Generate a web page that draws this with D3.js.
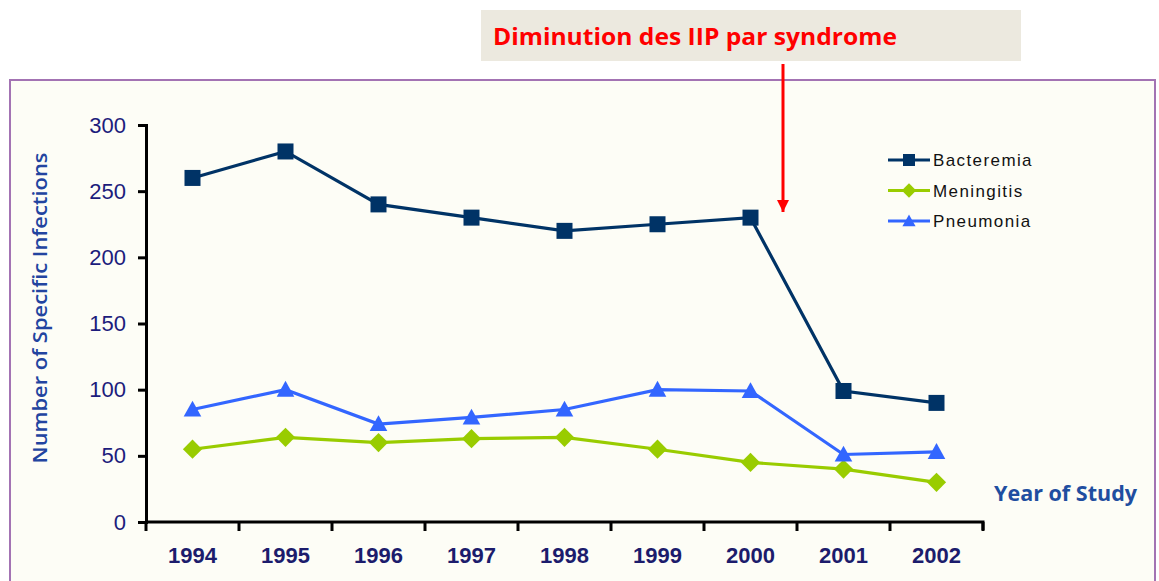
<!DOCTYPE html>
<html><head><meta charset="utf-8">
<script src="https://cdn.jsdelivr.net/npm/d3@7"></script>
<style>body{margin:0;background:#fff}svg{display:block}</style>
</head><body>
<svg id="c" width="1159" height="581"></svg>
<script>
const years = ["1994","1995","1996","1997","1998","1999","2000","2001","2002"];
const bacteremia = [260,280,240,230,220,225,230,99,90];
const meningitis = [55,64,60,63,64,55,45,40,30];
const pneumonia = [85,100,74,79,85,100,99,51,53];
const yTicks = [0,50,100,150,200,250,300];
const seriesNames = ["Bacteremia","Meningitis","Pneumonia"];
const seriesColors = ["#003366","#99cc00","#3366ff"];
const seriesData = [bacteremia, meningitis, pneumonia];

const svg = d3.select("#c");
// frame
svg.append("rect").attr("x",10).attr("y",80).attr("width",1145).attr("height",520)
  .attr("fill","#fdfdf6").attr("stroke","#a373b3").attr("stroke-width",2);

// title box
svg.append("rect").attr("x",481).attr("y",10).attr("width",540).attr("height",51).attr("fill","#ece9df");
svg.append("text").attr("x",493).attr("y",45).text("Diminution des IIP par syndrome")
  .attr("fill","#ff0000").attr("font-family","'Open Sans', Lato, sans-serif").attr("font-weight","bold")
  .attr("font-size",23).attr("textLength",404).attr("lengthAdjust","spacingAndGlyphs");

const x = d3.scaleBand().domain(years).range([146,983]);
const y = d3.scaleLinear().domain([0,300]).range([522,125]);

// axes
const yAxis = svg.append("g").attr("transform","translate(146,0)")
  .call(d3.axisLeft(y).tickValues(yTicks).tickSize(8).tickPadding(12));
yAxis.select(".domain").attr("stroke","#000").attr("stroke-width",3);
yAxis.selectAll(".tick line").attr("stroke","#000").attr("stroke-width",3);
yAxis.selectAll("text").attr("fill","#1c1c7c").attr("font-family","Arial, 'Liberation Sans', sans-serif").attr("font-size",22);

const xAxis = svg.append("g").attr("transform","translate(0,522)")
  .call(d3.axisBottom(x).tickSize(0).tickPadding(25));
xAxis.select(".domain").attr("stroke","#000").attr("stroke-width",3).attr("d","M146,0H983V8");
xAxis.selectAll("text").attr("fill","#1c1c6c").attr("font-family","Arial, 'Liberation Sans', sans-serif").attr("font-weight","bold").attr("font-size",22);
// boundary ticks between categories
const bounds = years.map(d => x(d)).concat([x(years[years.length-1]) + x.bandwidth()]);
svg.append("g").selectAll("line").data(bounds).join("line")
  .attr("x1",d=>d).attr("x2",d=>d).attr("y1",522).attr("y2",531)
  .attr("stroke","#000").attr("stroke-width",3);

// axis titles
svg.append("text").attr("transform","translate(47,308) rotate(-90)").attr("text-anchor","middle")
  .text("Number of Specific Infections").attr("fill","#2244a0")
  .attr("font-family","'Open Sans', Lato, sans-serif").attr("font-weight","600").attr("font-size",20)
  .attr("textLength",311).attr("lengthAdjust","spacingAndGlyphs");
svg.append("text").attr("x",994).attr("y",501).text("Year of Study").attr("fill","#1f4ea0")
  .attr("font-family","'Open Sans', Lato, sans-serif").attr("font-weight","bold").attr("font-size",21)
  .attr("textLength",143).attr("lengthAdjust","spacingAndGlyphs");

// markers
function marker(g, k, s){
  if(k===0){
    g.append("rect").attr("x",-s/2).attr("y",-s/2).attr("width",s).attr("height",s).attr("fill",seriesColors[k]);
  } else if(k===1){
    const h = s*0.6;
    g.append("path").attr("d",`M0,${-h}L${h},0L0,${h}L${-h},0Z`).attr("fill",seriesColors[k]);
  } else {
    const h = s*0.55;
    g.append("path").attr("d",`M0,${-h}L${h},${h*0.8}L${-h},${h*0.8}Z`).attr("fill",seriesColors[k]);
  }
}

// series
const line = d3.line().x((d,i)=>x(years[i])+x.bandwidth()/2).y(d=>y(d));
seriesData.forEach((data,k)=>{
  svg.append("path").attr("d",line(data)).attr("fill","none")
    .attr("stroke",seriesColors[k]).attr("stroke-width",3.2);
  data.forEach((d,i)=>{
    const g = svg.append("g").attr("transform",`translate(${x(years[i])+x.bandwidth()/2},${y(d)})`);
    marker(g,k,16);
  });
});

// legend
seriesNames.forEach((n,k)=>{
  const ly = 160 + k*30.5;
  svg.append("line").attr("x1",888).attr("x2",930).attr("y1",ly).attr("y2",ly)
    .attr("stroke",seriesColors[k]).attr("stroke-width",3);
  const g = svg.append("g").attr("transform",`translate(909,${ly})`);
  marker(g,k,12);
  svg.append("text").attr("x",933).attr("y",ly+6).text(n).attr("fill","#111")
    .attr("font-family","Arial, 'Liberation Sans', sans-serif").attr("font-size",17)
    .attr("letter-spacing",1.4);
});

// red arrow
svg.append("defs").append("marker").attr("id","ah").attr("viewBox","0 0 10 10")
  .attr("refX",10).attr("refY",5).attr("markerWidth",4).attr("markerHeight",4).attr("orient","auto")
  .append("path").attr("d","M0,0L10,5L0,10z").attr("fill","#ff0000");
svg.append("line").attr("x1",783).attr("x2",783).attr("y1",64).attr("y2",212)
  .attr("stroke","#ff0000").attr("stroke-width",3).attr("marker-end","url(#ah)");
</script>
</body></html>
